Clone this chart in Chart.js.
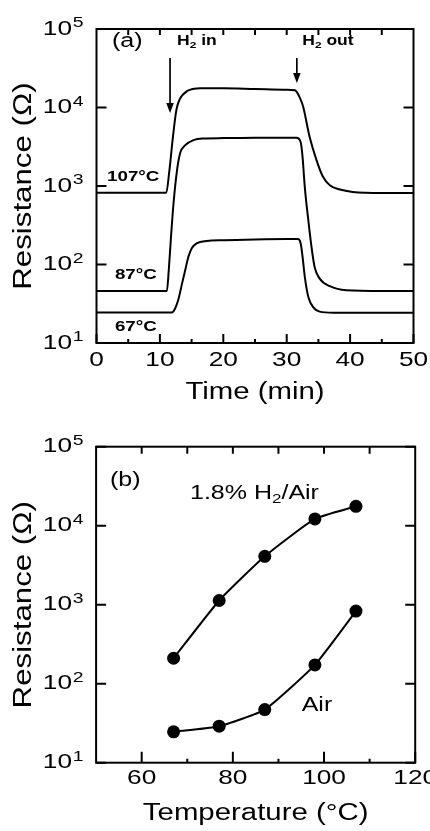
<!DOCTYPE html>
<html>
<head>
<meta charset="utf-8">
<title>Sensor resistance</title>
<script src="https://cdn.jsdelivr.net/npm/chart.js@4.4.1/dist/chart.umd.min.js"></script>
<style>
  html, body { margin: 0; padding: 0; background: #fff; }
  canvas { display: block; }
</style>
</head>
<body>
<canvas id="panelA" width="430" height="415"></canvas>
<canvas id="panelB" width="430" height="416"></canvas>
<script>
// ---------- (a) resistance transients, H2 in at ~11.5 min, out at ~31.5 min ----------
const timeTicks = [0, 10, 20, 30, 40, 50];
const timeMinorTicks = [5, 15, 25, 35, 45];
const timeTopTicks = [5, 10, 15, 20, 25, 30, 35, 40, 45];
const decades = [10, 100, 1000, 10000, 100000];

const t107 = [0, 5, 10, 11.0, 11.5, 12.06, 12.6, 13.1, 14.3, 16.4, 20, 25, 30, 31.3, 32.1, 32.6, 33.6, 34.7, 35.7, 36.8, 38.4, 40.4, 45, 50];
const r107 = [822, 822, 822, 822, 1585, 4266, 9333, 12589, 16218, 17579, 17579, 17179, 16788, 16596, 13183, 10233, 4266, 2138, 1318, 1023, 902, 841, 813, 813];

const t87 = [0, 5, 10, 11.1, 11.4, 11.75, 12.15, 12.7, 13.2, 14.0, 15.3, 16.9, 20, 25, 30, 31.55, 32.2, 32.5, 32.85, 33.4, 33.9, 34.4, 35.2, 36.8, 39.4, 45, 50];
const r87 = [46, 46, 46, 46, 85, 224, 603, 1585, 2630, 3311, 3846, 4027, 4074, 4121, 4121, 4121, 3631, 2344, 977, 372, 170, 93, 66, 53, 47, 46, 46];

const t67 = [0, 5, 10, 11.9, 12.4, 12.9, 13.5, 14.0, 14.5, 15.05, 15.8, 17.4, 20, 25, 30, 31.8, 32.2, 32.5, 32.85, 33.4, 34.2, 35.2, 37.3, 40, 45, 50];
const r67 = [24.5, 24.5, 24.5, 24.5, 27.5, 35.5, 57.5, 85.1, 125.9, 162.2, 186.2, 199.5, 204.2, 208.9, 211.3, 211.3, 186.2, 125.9, 70.0, 38.9, 28.5, 25.1, 24.3, 24.3, 24.3, 24.3];

// ---------- (b) resistance vs operating temperature ----------
const tempTicks = [60, 80, 100, 120];
const tempMinorTicks = [70, 90, 110];
const tempTopTicks = [60, 70, 80, 90, 100, 110];
const temps = [67, 77, 87, 98, 107];
const rH2Air = [210, 1130, 4100, 12200, 17600];
const rAir = [24.6, 29, 47, 173, 830];

const FONT = '"Liberation Sans", Arial, Helvetica, sans-serif';
const WIDE = 1.25;   // lettering is set extended along its baseline

// extended lettering: every string is stretched along its own baseline around its anchor
function widenText(ctx, k) {
  const fill = ctx.fillText;
  ctx.fillText = function (text, x, y) {
    this.save();
    this.translate(x, y);
    this.scale(k, 1);
    fill.call(this, text, 0, 0);
    this.restore();
  };
}

function drawParts(ctx, x, y, parts, size, weight) {
  let cx = x;
  parts.forEach(p => {
    const fs = p.sub ? size * 0.68 : size;
    ctx.font = (weight || 'normal') + ' ' + fs + 'px ' + FONT;
    ctx.textAlign = 'left';
    ctx.textBaseline = 'middle';
    ctx.fillText(p.t, cx, y + (p.sub ? size * 0.32 : 0));
    cx += ctx.measureText(p.t).width * WIDE;
  });
}

// box frame, inward ticks and the decade exponents of the log axis
function framePlugin(spec) {
  return {
    id: 'frame',
    afterDatasetsDraw(chart) {
      const { ctx, chartArea: a, scales: { x, y } } = chart;
      ctx.save();
      ctx.strokeStyle = '#000';
      ctx.lineWidth = 2;
      ctx.lineCap = 'square';
      ctx.strokeRect(a.left, a.top, a.right - a.left, a.bottom - a.top);
      ctx.lineCap = 'butt';
      ctx.beginPath();
      spec.bottomMajor.forEach(v => { const p = x.getPixelForValue(v); ctx.moveTo(p, a.bottom); ctx.lineTo(p, a.bottom - spec.majorLen); });
      spec.bottomMinor.forEach(v => { const p = x.getPixelForValue(v); ctx.moveTo(p, a.bottom); ctx.lineTo(p, a.bottom - spec.minorLen); });
      spec.top.forEach(v => { const p = x.getPixelForValue(v); ctx.moveTo(p, a.top); ctx.lineTo(p, a.top + spec.topLen); });
      decades.forEach(v => {
        const p = y.getPixelForValue(v);
        ctx.moveTo(a.left, p); ctx.lineTo(a.left + spec.sideLen, p);
        ctx.moveTo(a.right, p); ctx.lineTo(a.right - spec.sideLen, p);
      });
      ctx.stroke();

      ctx.fillStyle = '#000';
      ctx.font = '15.5px ' + FONT;
      ctx.textAlign = 'left';
      ctx.textBaseline = 'middle';
      y.ticks.forEach(t => {
        const p = y.getPixelForValue(t.value);
        ctx.fillText(String(Math.round(Math.log10(t.value))), a.left - spec.labelGap + 0.8, p - 6);
      });
      ctx.restore();
    }
  };
}

function notesPlugin(notes) {
  return {
    id: 'notes',
    afterDraw(chart) {
      const { ctx, scales: { x, y } } = chart;
      ctx.save();
      ctx.fillStyle = '#000';
      ctx.strokeStyle = '#000';
      (notes.arrows || []).forEach(ar => {
        const px = x.getPixelForValue(ar.x);
        const y0 = y.getPixelForValue(ar.from);
        const y1 = y.getPixelForValue(ar.to);
        ctx.lineWidth = 1.7;
        ctx.beginPath(); ctx.moveTo(px, y0); ctx.lineTo(px, y1 - 8); ctx.stroke();
        ctx.beginPath();
        ctx.moveTo(px - 3.8, y1 - 10); ctx.lineTo(px + 3.8, y1 - 10); ctx.lineTo(px, y1);
        ctx.closePath(); ctx.fill();
      });
      (notes.texts || []).forEach(tx => drawParts(ctx, x.getPixelForValue(tx.x), y.getPixelForValue(tx.y), tx.parts, tx.size, tx.weight));
      ctx.restore();
    }
  };
}

function xScale(min, max, ticks, height, pad, title, titlePad) {
  return {
    type: 'linear', position: 'bottom', min: min, max: max,
    grid: { display: false, drawTicks: false },
    border: { display: false },
    afterBuildTicks: s => { s.ticks = ticks.map(v => ({ value: v })); },
    afterFit: s => { s.height = height; s.paddingLeft = 0; s.paddingRight = 0; },
    ticks: {
      autoSkip: false, maxRotation: 0, minRotation: 0, padding: pad, color: '#000',
      font: { family: FONT, size: 21 }, callback: v => String(v)
    },
    title: {
      display: true, text: title, color: '#000',
      font: { family: FONT, size: 23.5 }, padding: { top: 0, bottom: titlePad }
    }
  };
}

// mantissa "10" comes from the axis; the exponent is set small and raised beside it
function yScale(width, labelGap, titlePad) {
  return {
    type: 'logarithmic', position: 'left', min: 10, max: 100000,
    grid: { display: false, drawTicks: false },
    border: { display: false },
    afterBuildTicks: s => { s.ticks = decades.map(v => ({ value: v })); },
    afterFit: s => { s.width = width; s.paddingTop = 0; s.paddingBottom = 0; },
    ticks: {
      autoSkip: false, padding: labelGap, color: '#000',
      font: { family: FONT, size: 21 }, callback: () => '10'
    },
    title: {
      display: true, text: 'Resistance (\u03A9)', color: '#000',
      font: { family: FONT, size: 25 }, padding: { top: titlePad, bottom: 0 }
    }
  };
}

function pts(xs, ys) { return xs.map((v, i) => ({ x: v, y: ys[i] })); }

const baseOptions = {
  responsive: false, animation: false, devicePixelRatio: 1, events: [],
  plugins: { legend: { display: false }, tooltip: { enabled: false } }
};

// ----- panel (a) -----
const canvasA = document.getElementById('panelA');
widenText(canvasA.getContext('2d'), WIDE);
const curve = { borderColor: '#000', borderWidth: 2, pointRadius: 0, fill: false, cubicInterpolationMode: 'monotone' };
new Chart(canvasA, {
  type: 'line',
  data: {
    datasets: [
      Object.assign({ label: '107 \u00B0C', data: pts(t107, r107) }, curve),
      Object.assign({ label: '87 \u00B0C', data: pts(t87, r87) }, curve),
      Object.assign({ label: '67 \u00B0C', data: pts(t67, r67) }, curve)
    ]
  },
  options: Object.assign({}, baseOptions, {
    layout: { padding: { top: 29, right: 16.5, bottom: 0, left: 0 } },
    scales: {
      x: xScale(0, 50, timeTicks, 72, 5, 'Time (min)', 8.6),
      y: yScale(96.5, 24.5, 9)
    }
  }),
  plugins: [
    framePlugin({ bottomMajor: timeTicks, bottomMinor: timeMinorTicks, top: timeTopTicks, majorLen: 9, minorLen: 4, topLen: 6, sideLen: 10, labelGap: 24.5 }),
    notesPlugin({
      arrows: [{ x: 11.6, from: 42700, to: 8500 }, { x: 31.6, from: 42700, to: 20500 }],
      texts: [
        { x: 2.45, y: 70300, size: 20, parts: [{ t: '(a)' }] },
        { x: 12.7, y: 70300, size: 14, weight: 'bold', parts: [{ t: 'H' }, { t: '2', sub: true }, { t: ' in' }] },
        { x: 32.46, y: 70300, size: 14, weight: 'bold', parts: [{ t: 'H' }, { t: '2', sub: true }, { t: ' out' }] },
        { x: 1.66, y: 1313, size: 15, weight: 'bold', parts: [{ t: '107\u00B0C' }] },
        { x: 2.9, y: 73.5, size: 15, weight: 'bold', parts: [{ t: '87\u00B0C' }] },
        { x: 2.9, y: 16.1, size: 15, weight: 'bold', parts: [{ t: '67\u00B0C' }] }
      ]
    })
  ]
});

// ----- panel (b) -----
const canvasB = document.getElementById('panelB');
widenText(canvasB.getContext('2d'), WIDE);
const marked = {
  borderColor: '#000', borderWidth: 2, fill: false, tension: 0.15,
  pointStyle: 'circle', pointRadius: 6.5, pointBackgroundColor: '#000', pointBorderColor: '#000', pointBorderWidth: 0
};
new Chart(canvasB, {
  type: 'line',
  data: {
    datasets: [
      Object.assign({ label: '1.8% H2/Air', data: pts(temps, rH2Air) }, marked),
      Object.assign({ label: 'Air', data: pts(temps, rAir) }, marked)
    ]
  },
  options: Object.assign({}, baseOptions, {
    layout: { padding: { top: 31.7, right: 14.8, bottom: 0, left: 0 } },
    scales: {
      x: xScale(50, 120, tempTicks, 68.3, 3, 'Temperature (\u00B0C)', 3.3),
      y: yScale(96.1, 24.1, 9)
    }
  }),
  plugins: [
    framePlugin({ bottomMajor: tempTicks, bottomMinor: tempMinorTicks, top: tempTopTicks, majorLen: 11, minorLen: 4, topLen: 7, sideLen: 10, labelGap: 24.1 }),
    notesPlugin({
      texts: [
        { x: 53.05, y: 37800, size: 20, parts: [{ t: '(b)' }] },
        { x: 70.6, y: 25900, size: 20, parts: [{ t: '1.8% H' }, { t: '2', sub: true }, { t: '/Air' }] },
        { x: 95.1, y: 53.7, size: 20, parts: [{ t: 'Air' }] }
      ]
    })
  ]
});
</script>
</body>
</html>
